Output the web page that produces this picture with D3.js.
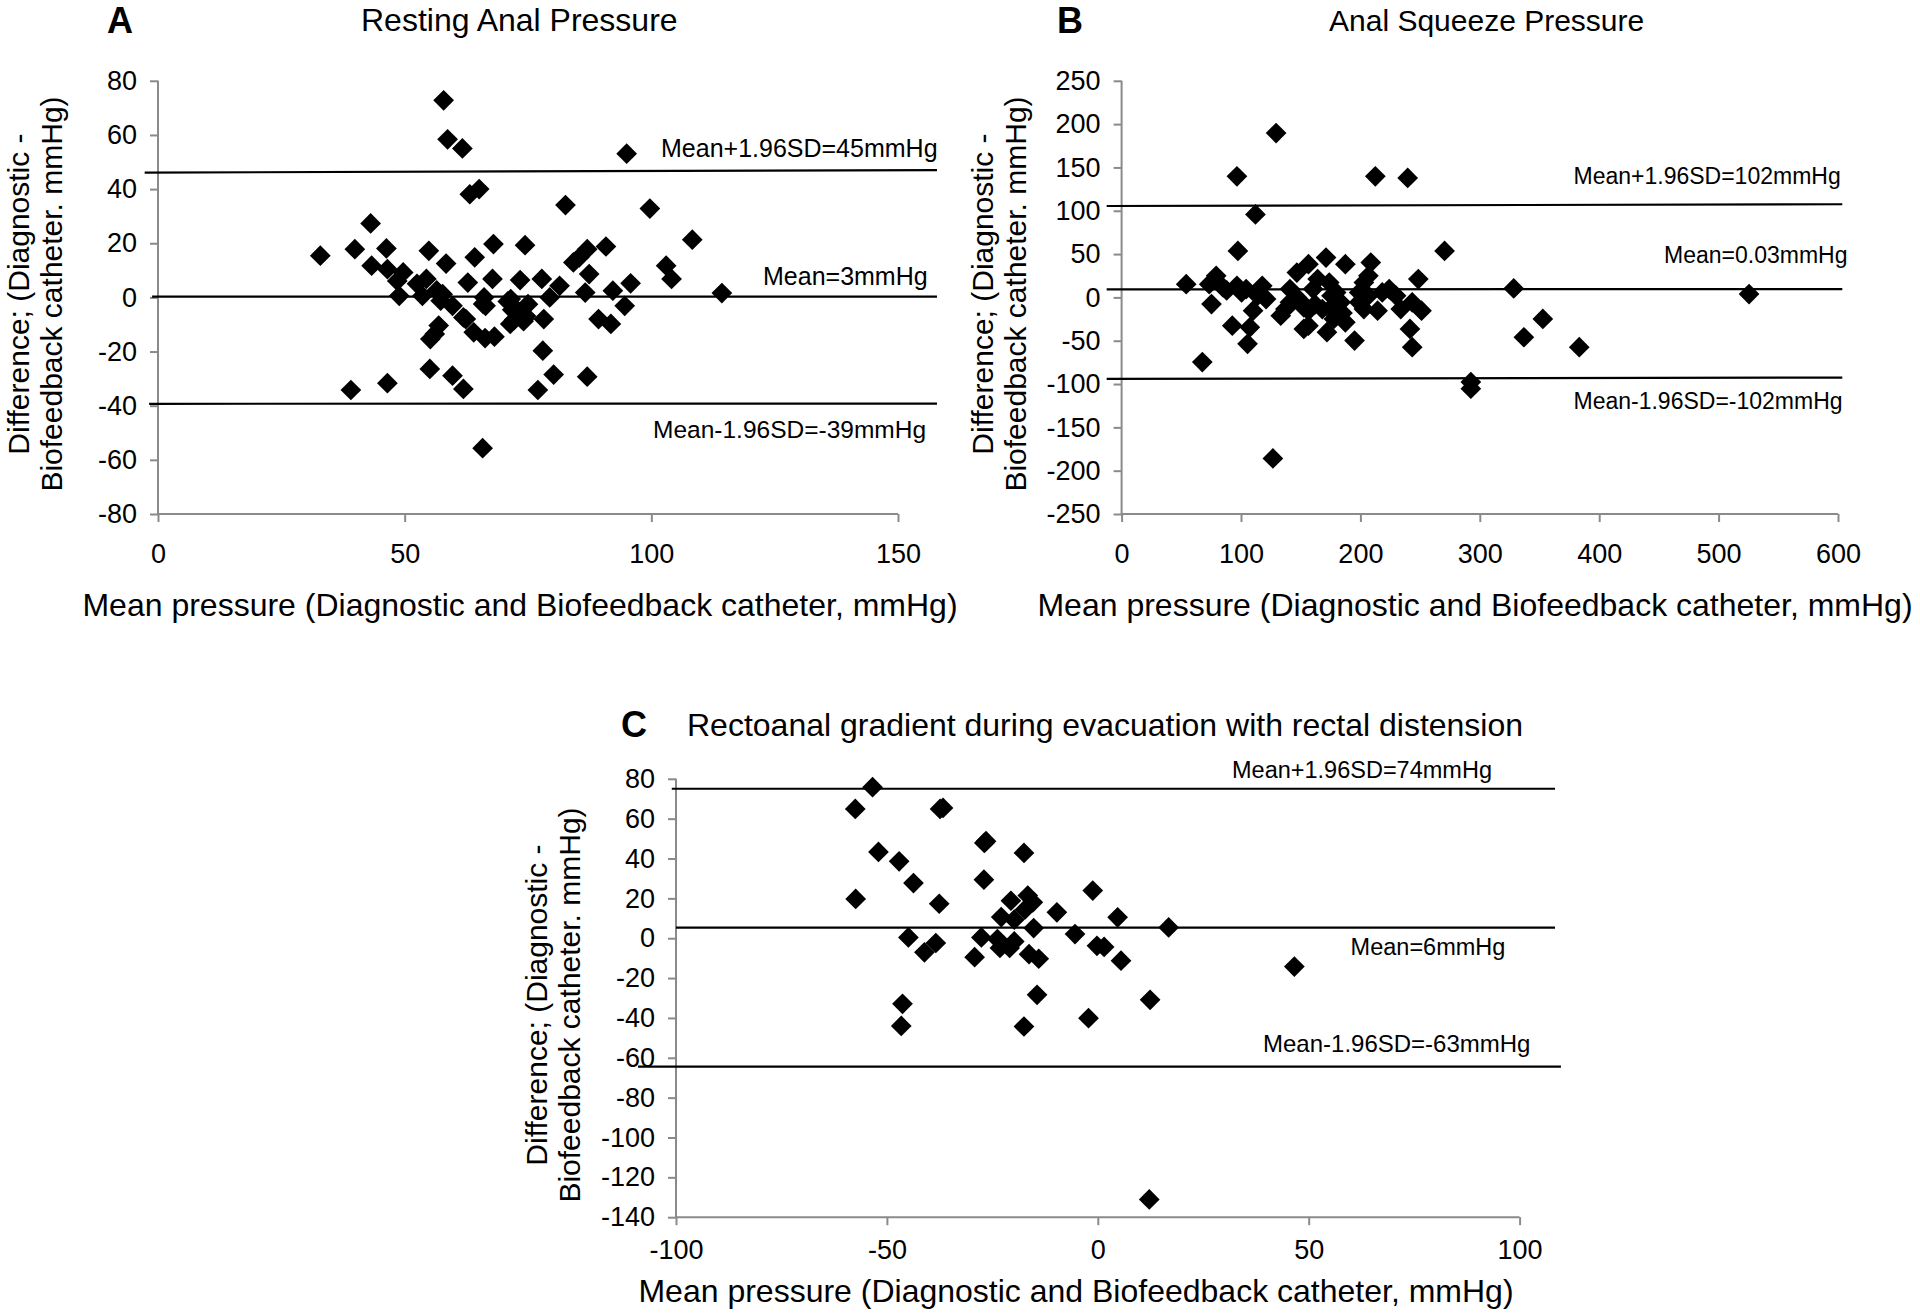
<!DOCTYPE html>
<html>
<head>
<meta charset="utf-8">
<script src="https://cdn.jsdelivr.net/npm/d3@7/dist/d3.min.js"></script>
<style>
  body { margin: 0; background: #fff; }
  svg { display: block; }
  text { font-family: "Liberation Sans", Arial, Helvetica, sans-serif; fill: #000; }
</style>
</head>
<body>
<svg id="chart" width="1920" height="1316"></svg>
<script>
// ---------------- DATA ----------------
// Panel A: Resting anal pressure
const aMean = [32.9,39.9,43.1,46.3,43.3,46.5,49.7,48.5,48.9,53.6,54.4,54.9,56.5,57.7,57.3,59.7,58.4,57.9,58.7,61.7,
  63.2,65.1,64.2,62.8,62.4,64.0,66.3,68.2,66.1,66.4,67.8,68.0,74.4,73.4,71.5,72.6,73.8,71.4,74.2,75.0,
  77.8,79.4,81.4,78.2,78.0,80.2,77.0,82.6,84.2,85.4,87.0,90.8,87.4,86.6,92.2,95.8,94.6,89.3,91.8,87.0,
  95.0,99.7,103.0,104.1,108.3,114.3,39.1,46.5,55.1,55.2,56.1,56.9,59.7,61.9,65.8,52.5,71.8,73.2,74.6,72.2,
  74.1,70.9,65.9,61.9,56.5];
const aDiff = [15.4,17.8,27.3,18.1,11.7,10.4,9.2,6.1,0.6,0.6,6.8,17.2,2.5,1.2,-1.2,-3.1,12.5,72.8,58.4,55.0,
  38.1,40.0,14.8,5.5,-8.0,-12.9,-15.0,-14.5,0.0,-3.1,6.8,19.7,19.3,6.4,-0.6,-4.3,-6.1,-9.8,-8.0,-2.5,
  6.8,0.0,4.3,-8.0,-19.7,-28.5,-34.2,34.1,12.9,14.8,17.8,18.8,8.6,1.8,2.5,5.2,-3.1,-8.0,-9.8,-29.3,
  53.1,32.8,11.7,6.8,21.3,1.6,-34.2,-31.7,-26.4,-15.4,-13.5,-10.4,-28.9,-33.8,-55.7,5.0,-4.6,-5.5,-6.9,-8.3,
  -8.8,-1.5,-2.4,-7.4,2.5];
// reference lines [x1, y1, x2, y2]
const aLines = [[-2.7, 46.1, 157.9, 47.0], [-1.2, 0.25, 157.9, 0.25], [-1.8, -39.3, 157.9, -39.2]];
const aLineLabels = ["Mean+1.96SD=45mmHg", "Mean=3mmHg", "Mean-1.96SD=-39mmHg"];
const aXTicks = [0, 50, 100, 150];
const aYTicks = [-80, -60, -40, -20, 0, 20, 40, 60, 80];

// Panel B: Anal squeeze pressure
const bMean = [54.1,67.6,79.2,75.3,85.0,73.4,96.6,97.4,96.6,92.7,104.3,107.4,105.5,112.1,110.1,117.8,121.0,129.4,126.7,133.3,
  141.0,146.8,156.5,152.6,156.5,152.6,160.4,171.2,172.0,168.1,175.8,179.7,187.4,187.4,195.1,183.5,202.9,208.7,206.7,212.5,
  239.6,214.4,224.1,229.9,233.8,248.5,243.4,251.2,241.5,243.4,270.5,292.5,292.5,328.4,352.8,336.9,383.3,525.5,141.0,146.8,
  137.2,164.2,173.9,179.7,199.0,202.9,199.0,206.7,218.3,150.7,156.5,175.8,177.8,114.0,100.5,88.0,162.0,185.0];
const bDiff = [15.3,-74.7,24.9,-7.7,11.5,15.3,139.8,53.6,13.4,-32.6,9.6,-34.5,-53.6,95.8,-15.3,13.4,-1.9,189.7,-185.8,-21.1,
  -5.7,28.7,38.3,-36.4,-32.6,-11.5,9.6,46.0,-40.2,-13.4,1.9,-21.1,38.3,-28.7,-49.8,-5.7,-13.4,40.2,24.9,139.8,
  137.9,-15.3,9.6,1.9,-13.4,21.1,-5.7,-15.3,-36.4,-57.5,53.6,-97.7,-105.4,10.3,-24.9,-46.0,-57.5,3.8,9.6,0.0,
  -13.4,21.1,17.2,5.7,5.7,17.2,-5.7,1.9,5.7,-5.7,-15.3,-11.5,-24.9,1.9,5.7,8.0,-8.0,-18.0];
const bLines = [[-12.5, 105.5, 603.6, 107.5], [-12.5, 9.3, 603.6, 9.6], [-12.5, -94.0, 603.6, -92.5]];
const bLineLabels = ["Mean+1.96SD=102mmHg", "Mean=0.03mmHg", "Mean-1.96SD=-102mmHg"];
const bXTicks = [0, 100, 200, 300, 400, 500, 600];
const bYTicks = [-250, -200, -150, -100, -50, 0, 50, 100, 150, 200, 250];

// Panel C: Rectoanal gradient during evacuation with rectal distension
const cMean = [-53.4,-57.5,-37.4,-36.7,-26.9,-26.5,-52.0,-47.1,-17.5,-43.7,-27.0,-57.4,-37.6,-1.2,-20.6,-16.6,-15.4,-22.9,-19.8,-17.3,
  -9.7,4.7,16.8,-15.2,-5.4,-44.9,-27.6,-23.8,-38.4,-41.1,-19.8,-20.9,-23.2,-0.2,1.5,-29.2,-16.3,-14.0,5.5,46.6,
  -14.4,12.4,-46.3,-46.6,-17.5,-2.2,12.2];
const cDiff = [75.8,64.9,64.9,65.4,47.8,48.7,43.3,38.6,42.8,27.7,29.4,19.7,17.3,23.9,18.8,21.4,18.0,10.6,9.3,14.3,
  13.0,10.5,5.4,5.1,2.1,0.4,0.4,-0.4,-2.4,-7.1,-1.6,-4.9,-4.9,-3.8,-4.4,-9.5,-8.0,-10.3,-11.3,-14.2,
  -28.4,-30.9,-32.9,-44.0,-44.3,-40.1,-131.1];
const cLines = [[-101, 75.0, 108.4, 75.0], [-100, 5.3, 108.4, 5.3], [-109, -64.4, 109.8, -64.4]];
const cLineLabels = ["Mean+1.96SD=74mmHg", "Mean=6mmHg", "Mean-1.96SD=-63mmHg"];
const cXTicks = [-100, -50, 0, 50, 100];
const cYTicks = [-140, -120, -100, -80, -60, -40, -20, 0, 20, 40, 60, 80];

const titles = ["Resting Anal Pressure", "Anal Squeeze Pressure", "Rectoanal gradient during evacuation with rectal distension"];
const panelLetters = ["A", "B", "C"];
const xAxisTitle = "Mean pressure (Diagnostic and Biofeedback catheter, mmHg)";
const yAxisTitle = ["Difference; (Diagnostic -", "Biofeedback catheter. mmHg)"];

// ---------------- LAYOUT ----------------
const panels = [
  { mean: aMean, diff: aDiff, lines: aLines, labels: aLineLabels, xTicks: aXTicks, yTicks: aYTicks,
    x0: 158, x1: 898, y0: 80.8, y1: 514, letter: panelLetters[0], title: titles[0], titleSize: 32,
    letterPos: [107, 33], titlePos: [361, 31], xTitle: [520, 616], yTitleY: 294, xPad: 22,
    labelPos: [[661, 157, 25], [763, 285, 25], [653, 438, 24.5]] },
  { mean: bMean, diff: bDiff, lines: bLines, labels: bLineLabels, xTicks: bXTicks, yTicks: bYTicks,
    x0: 1121.6, x1: 1838, y0: 80.8, y1: 514, letter: panelLetters[1], title: titles[1], titleSize: 30,
    letterPos: [1057, 33], titlePos: [1329, 31], xTitle: [1475, 616], yTitleY: 294, xPad: 22,
    labelPos: [[1573.5, 184, 23], [1664, 263, 23], [1573.5, 409, 23]] },
  { mean: cMean, diff: cDiff, lines: cLines, labels: cLineLabels, xTicks: cXTicks, yTicks: cYTicks,
    x0: 676, x1: 1519.6, y0: 778.8, y1: 1217.2, letter: panelLetters[2], title: titles[2], titleSize: 32,
    letterPos: [621, 737], titlePos: [687, 736], xTitle: [1076, 1302], yTitleY: 1005, xPad: 15,
    labelPos: [[1232, 778, 23.5], [1350.6, 955, 23.5], [1263, 1052, 24]] }
];

const svg = d3.select("#chart");
svg.append("rect").attr("width", 1920).attr("height", 1316).attr("fill", "#fff");

const axisColor = "#8a8a8a";
const diamond = d3.symbol().type(d3.symbolSquare).size(215);
const fmt = d => String(d);  // plain hyphen-minus as in the source

panels.forEach(p => {
  const xDomain = [p.xTicks[0], p.xTicks[p.xTicks.length - 1]];
  const yDomain = [p.yTicks[0], p.yTicks[p.yTicks.length - 1]];
  const x = d3.scaleLinear().domain(xDomain).range([p.x0, p.x1]);
  const y = d3.scaleLinear().domain(yDomain).range([p.y1, p.y0]);
  const g = svg.append("g");

  // Y axis
  const yAxis = g.append("g").attr("transform", `translate(${p.x0},0)`)
    .call(d3.axisLeft(y).tickValues(p.yTicks).tickSize(8).tickPadding(13).tickFormat(fmt));
  // X axis
  const xAxis = g.append("g").attr("transform", `translate(0,${p.y1})`)
    .call(d3.axisBottom(x).tickValues(p.xTicks).tickSize(8).tickPadding(p.xPad).tickFormat(fmt));
  [yAxis, xAxis].forEach(ax => {
    ax.select(".domain").attr("stroke", axisColor).attr("stroke-width", 2);
    ax.selectAll(".tick line").attr("stroke", axisColor).attr("stroke-width", 2);
    ax.selectAll(".tick text").attr("fill", "#000")
      .style("font-family", '"Liberation Sans", Arial, sans-serif').style("font-size", "27px");
  });
  xAxis.select(".domain").attr("d", `M${p.x0},0H${p.x1}`);
  yAxis.select(".domain").attr("d", `M0,${p.y0}V${p.y1}`);

  // reference lines
  g.selectAll("line.ref").data(p.lines).join("line").attr("class", "ref")
    .attr("x1", d => x(d[0])).attr("y1", d => y(d[1]))
    .attr("x2", d => x(d[2])).attr("y2", d => y(d[3]))
    .attr("stroke", "#000").attr("stroke-width", 2.2);

  // points
  g.selectAll("path.pt").data(p.mean.map((m, i) => [m, p.diff[i]])).join("path").attr("class", "pt")
    .attr("d", diamond)
    .attr("transform", d => `translate(${x(d[0])},${y(d[1])}) rotate(45)`)
    .attr("fill", "#000");

  // reference line labels
  p.labels.forEach((t, i) => {
    const lp = p.labelPos[i];
    g.append("text").attr("x", lp[0]).attr("y", lp[1]).style("font-size", lp[2] + "px").text(t);
  });

  // panel letter and title
  g.append("text").attr("x", p.letterPos[0]).attr("y", p.letterPos[1])
    .style("font-size", "36px").style("font-weight", "bold").text(p.letter);
  g.append("text").attr("x", p.titlePos[0]).attr("y", p.titlePos[1])
    .style("font-size", p.titleSize + "px").text(p.title);

  // axis titles
  g.append("text").attr("x", p.xTitle[0]).attr("y", p.xTitle[1]).attr("text-anchor", "middle")
    .style("font-size", "32px").text(xAxisTitle);
  yAxisTitle.forEach((t, i) => {
    const bx = p.x0 - 129 + i * 33;
    g.append("text").attr("transform", `translate(${bx},${p.yTitleY}) rotate(-90)`)
      .attr("text-anchor", "middle").style("font-size", "30px").text(t);
  });
});
</script>
</body>
</html>
